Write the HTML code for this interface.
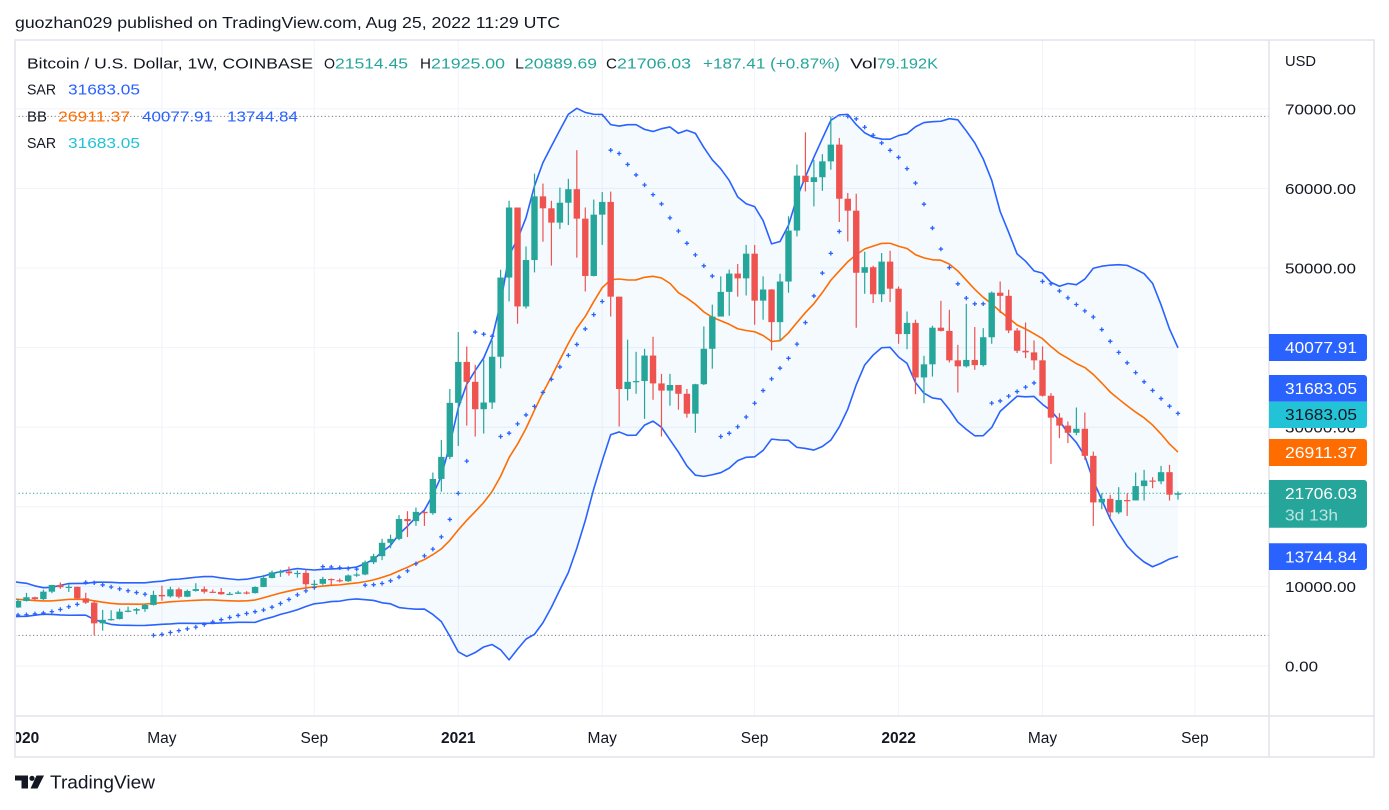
<!DOCTYPE html>
<html><head><meta charset="utf-8">
<style>
html,body{margin:0;padding:0;background:#fff;}
svg{display:block;}
text{font-family:"Liberation Sans",sans-serif;}
</style></head><body>
<svg id="s" width="1389" height="810" viewBox="0 0 1389 810" xmlns="http://www.w3.org/2000/svg">
<defs>
<clipPath id="pc"><rect x="16" y="41" width="1253" height="675"/></clipPath>
<clipPath id="tc"><rect x="16" y="717" width="1253" height="40"/></clipPath>
</defs>
<rect width="1389" height="810" fill="#fff"/>
<!-- grid -->
<g stroke="#f0f3fa" stroke-width="1">
<line x1="15" x2="1269" y1="666" y2="666"/>
<line x1="15" x2="1269" y1="586.4" y2="586.4"/>
<line x1="15" x2="1269" y1="506.8" y2="506.8"/>
<line x1="15" x2="1269" y1="427.2" y2="427.2"/>
<line x1="15" x2="1269" y1="347.6" y2="347.6"/>
<line x1="15" x2="1269" y1="268" y2="268"/>
<line x1="15" x2="1269" y1="188.4" y2="188.4"/>
<line x1="15" x2="1269" y1="108.8" y2="108.8"/>
<line x1="161.9" x2="161.9" y1="40" y2="716"/>
<line x1="314.3" x2="314.3" y1="40" y2="716"/>
<line x1="458.3" x2="458.3" y1="40" y2="716"/>
<line x1="602.2" x2="602.2" y1="40" y2="716"/>
<line x1="754.6" x2="754.6" y1="40" y2="716"/>
<line x1="898.6" x2="898.6" y1="40" y2="716"/>
<line x1="1042.5" x2="1042.5" y1="40" y2="716"/>
<line x1="1194.9" x2="1194.9" y1="40" y2="716"/>
</g>
<g id="plot" clip-path="url(#pc)"></g>
<!-- frame -->
<g stroke="#e0e3eb" stroke-width="1.5" fill="none">
<rect x="15" y="40" width="1359" height="717"/>
<line x1="15" x2="1374" y1="716" y2="716"/>
<line x1="1269" x2="1269" y1="40" y2="757"/>
</g>
<!-- header -->
<text x="15" y="28" font-size="15.5" fill="#131722" textLength="545" lengthAdjust="spacingAndGlyphs">guozhan029 published on TradingView.com, Aug 25, 2022 11:29 UTC</text>
<!-- legend -->
<g font-size="15" lengthAdjust="spacingAndGlyphs">
<text x="27" y="68.5" fill="#131722" textLength="286" lengthAdjust="spacingAndGlyphs">Bitcoin / U.S. Dollar, 1W, COINBASE</text>
<text x="324" y="68.5" fill="#131722" textLength="11" lengthAdjust="spacingAndGlyphs">O</text>
<text x="335" y="68.5" fill="#26a69a" textLength="73" lengthAdjust="spacingAndGlyphs">21514.45</text>
<text x="420" y="68.5" fill="#131722" textLength="11" lengthAdjust="spacingAndGlyphs">H</text>
<text x="431" y="68.5" fill="#26a69a" textLength="74" lengthAdjust="spacingAndGlyphs">21925.00</text>
<text x="515" y="68.5" fill="#131722" textLength="9" lengthAdjust="spacingAndGlyphs">L</text>
<text x="524" y="68.5" fill="#26a69a" textLength="73" lengthAdjust="spacingAndGlyphs">20889.69</text>
<text x="606" y="68.5" fill="#131722" textLength="11" lengthAdjust="spacingAndGlyphs">C</text>
<text x="617" y="68.5" fill="#26a69a" textLength="74" lengthAdjust="spacingAndGlyphs">21706.03</text>
<text x="703" y="68.5" fill="#26a69a" textLength="137" lengthAdjust="spacingAndGlyphs">+187.41 (+0.87%)</text>
<text x="850" y="68.5" fill="#131722" textLength="27" lengthAdjust="spacingAndGlyphs">Vol</text>
<text x="877" y="68.5" fill="#26a69a" textLength="61" lengthAdjust="spacingAndGlyphs">79.192K</text>
<text x="27" y="94.5" fill="#131722" textLength="29" lengthAdjust="spacingAndGlyphs">SAR</text>
<text x="68" y="94.5" fill="#2962ff" textLength="72" lengthAdjust="spacingAndGlyphs">31683.05</text>
<text x="27" y="121.5" fill="#131722" textLength="20" lengthAdjust="spacingAndGlyphs">BB</text>
<text x="58" y="121.5" fill="#ff6d00" textLength="72" lengthAdjust="spacingAndGlyphs">26911.37</text>
<text x="142" y="121.5" fill="#2962ff" textLength="71" lengthAdjust="spacingAndGlyphs">40077.91</text>
<text x="227" y="121.5" fill="#2962ff" textLength="71" lengthAdjust="spacingAndGlyphs">13744.84</text>
<text x="27" y="148" fill="#131722" textLength="29" lengthAdjust="spacingAndGlyphs">SAR</text>
<text x="68" y="148" fill="#22c3d6" textLength="72" lengthAdjust="spacingAndGlyphs">31683.05</text>
</g>
<!-- price axis -->
<g font-size="15" fill="#131722">
<text x="1285" y="66" textLength="31" lengthAdjust="spacingAndGlyphs">USD</text>
<text x="1285" y="114.3" textLength="71" lengthAdjust="spacingAndGlyphs">70000.00</text>
<text x="1285" y="193.9" textLength="71" lengthAdjust="spacingAndGlyphs">60000.00</text>
<text x="1285" y="273.5" textLength="71" lengthAdjust="spacingAndGlyphs">50000.00</text>
<text x="1285" y="353.1" textLength="71" lengthAdjust="spacingAndGlyphs">40000.00</text>
<text x="1285" y="432.7" textLength="71" lengthAdjust="spacingAndGlyphs">30000.00</text>
<text x="1285" y="512.3" textLength="71" lengthAdjust="spacingAndGlyphs">20000.00</text>
<text x="1285" y="591.9" textLength="71" lengthAdjust="spacingAndGlyphs">10000.00</text>
<text x="1285" y="671.5" textLength="33" lengthAdjust="spacingAndGlyphs">0.00</text>
</g>
<!-- price label boxes -->
<g font-size="15.5">
<path d="M1269,334h95a3,3 0 0 1 3,3v21a3,3 0 0 1 -3,3h-95z" fill="#2962ff"/>
<text x="1285" y="353" fill="#fff" textLength="72" lengthAdjust="spacingAndGlyphs">40077.91</text>
<path d="M1269,375h95a3,3 0 0 1 3,3v23.7h-98z" fill="#2962ff"/>
<text x="1285" y="394" fill="#fff" textLength="72" lengthAdjust="spacingAndGlyphs">31683.05</text>
<path d="M1269,401.7h98v23.3a3,3 0 0 1 -3,3h-95z" fill="#22c3d6"/>
<text x="1285" y="420" fill="#131722" textLength="72" lengthAdjust="spacingAndGlyphs">31683.05</text>
<path d="M1269,439h95a3,3 0 0 1 3,3v21a3,3 0 0 1 -3,3h-95z" fill="#ff6d00"/>
<text x="1285" y="458" fill="#fff" textLength="72" lengthAdjust="spacingAndGlyphs">26911.37</text>
<path d="M1269,480h95a3,3 0 0 1 3,3v41.7a3,3 0 0 1 -3,3h-95z" fill="#26a69a"/>
<text x="1285" y="498.8" fill="#fff" textLength="72" lengthAdjust="spacingAndGlyphs">21706.03</text>
<text x="1285" y="520.5" fill="#fff" fill-opacity="0.7" textLength="53" lengthAdjust="spacingAndGlyphs">3d 13h</text>
<path d="M1269,543.3h95a3,3 0 0 1 3,3v20.7a3,3 0 0 1 -3,3h-95z" fill="#2962ff"/>
<text x="1285" y="562.3" fill="#fff" textLength="72" lengthAdjust="spacingAndGlyphs">13744.84</text>
</g>
<!-- time axis -->
<g font-size="15.5" fill="#131722" text-anchor="middle" clip-path="url(#tc)">
<text x="22" y="743" font-weight="bold">2020</text>
<text x="161.9" y="743">May</text>
<text x="314.3" y="743">Sep</text>
<text x="458.3" y="743" font-weight="bold">2021</text>
<text x="602.2" y="743">May</text>
<text x="754.6" y="743">Sep</text>
<text x="898.6" y="743" font-weight="bold">2022</text>
<text x="1042.5" y="743">May</text>
<text x="1194.9" y="743">Sep</text>
</g>
<!-- logo -->
<g fill="#131722">
<rect x="15" y="775.5" width="13" height="5"/>
<rect x="21.5" y="775.5" width="6.5" height="13"/>
<circle cx="32" cy="778.3" r="2.6"/>
<polygon points="36.5,775.5 44,775.5 37.5,788.5 30.5,788.5"/>
<text x="50" y="788.5" font-size="18.5" textLength="105" lengthAdjust="spacingAndGlyphs">TradingView</text>
</g>
</svg>
<script>
(function(){
var warm=[
[13200,9600,11300],[13100,9900,10200],[11100,9100,10400],[10700,9100,9500],[11100,9400,10800],[12300,10700,11400],[11500,9500,10200],[10900,9800,10140],[10600,9300,9600],[10900,9600,10400],[10500,9900,10300],[10400,9600,10000],[10000,7700,8060],[8500,7800,7990],[8800,7900,8300],[8400,7800,7960],[10300,7300,9250],[9600,8900,9200],[9500,8700,8800],[9100,8300,8500],[8500,6800,7050],[7900,6500,7400],[7900,7100,7500],[7500,6900,7100],[7600,6400,7150],[7500,7050,7250]];
var main=[
[7500,6850,7350],[8470,7300,8170],[9180,8100,8640],[8700,8250,8400],[9580,8300,9340],[10200,9150,10180],[10500,9700,9900],[10300,9300,9950],[9990,8400,8500],[9200,7800,7960],
[8170,3850,5360],[7040,4440,5800],[7000,5700,5900],[7200,5850,6830],[7450,6750,6950],[7300,6500,7150],[7800,6800,7670],[9450,7600,8930],[10080,8200,8750],[9950,8600,9640],
[9850,8500,8700],[9600,8650,9430],[10400,9350,9660],[9990,9100,9330],[9600,9200,9300],[9800,8950,9010],[9300,8900,9070],[9450,9050,9240],[9400,9000,9160],[10000,9100,9930],
[11450,9900,11060],[12000,11000,11770],[12100,11200,11870],[12480,11350,11650],[12000,11100,11700],[12100,9900,10270],[10800,9900,10330],[11200,10200,10930],[11000,10150,10780],[11000,10500,10650],
[11500,10550,11380],[11750,11200,11500],[13250,11400,13030],[14100,12800,13800],[15980,13300,15480],[16500,14800,15970],[18950,15800,18470],[19450,16200,18200],[19900,17600,19360],[19450,17600,19200],
[24300,19000,23500],[28400,21900,26270],[34800,26000,33060],[41950,27650,38200],[40140,30200,35700],[37840,28830,32260],[38500,29200,33100],[40900,32300,38850],[49780,37400,48800],[58450,45800,57600],
[57600,43000,45170],[52700,44900,51000],[61850,49450,59000],[60600,53300,57500],[58450,50300,55700],[60100,54900,58200],[61200,55400,59900],[64800,51300,56200],[57600,47050,49000],[58600,48950,56700],
[59550,52900,58300],[59600,43900,46400],[46400,30090,34800],[41000,33350,35700],[39470,34200,35800],[39850,31050,39000],[41360,33440,35500],[36700,28830,34600],[36700,32700,35300],[35300,32200,34200],
[34800,31200,31700],[35450,29300,35400],[42650,35300,39850],[45400,37350,43900],[48950,43900,47000],[49800,44000,49300],[50500,46400,48700],[52900,46550,51800],[52900,42870,45900],[48950,43500,47300],
[47350,39640,43200],[49280,40900,48300],[56500,46900,54700],[63000,53970,61600],[67040,59620,60800],[63600,57740,61400],[64300,59700,63400],[69050,62350,65500],[66340,55780,58700],[59420,53330,57200],
[59330,42490,49400],[52040,46760,50100],[50280,45600,46700],[51880,45720,50800],[52170,45720,47400],[47680,40480,41700],[44540,39800,43100],[43500,34150,36250],[38970,33020,37900],[42740,36360,42500],
[45880,42030,42100],[44750,38130,38400],[40350,34360,37650],[45500,37500,38450],[42580,37210,37800],[42450,37630,41300],[47050,40480,46900],[48310,44340,46500],[47270,41820,42150],[42450,39310,39600],
[43150,38680,39400],[40900,37210,38400],[40140,33850,33950],[34280,25390,31200],[31770,28620,30200],[30710,28000,29300],[32470,29000,29800],[31850,25900,26400],[26940,17600,20550],[21710,19700,21000],
[21500,18690,19300],[22460,19100,20850],[21710,18860,20800],[24300,20870,22600],[24640,20780,23300],[23720,22340,23200],[25140,22840,24350],[25270,20780,21518.62],[21925,20889.69,21706.03]];
var all=warm.concat(main),off=warm.length,N=all.length;
var O=[],H=[],L=[],C=[];
for(var k=0;k<N;k++){H[k]=all[k][0];L[k]=all[k][1];C[k]=all[k][2];O[k]=k?C[k-1]:10800;}
O[N-1]=21514.45;
function X(k){return 18+(k-off-1)*8.467;}
function Y(p){return 666-p*0.00796;}
function f(v){return v.toFixed(2);}
var ns="http://www.w3.org/2000/svg",g=document.getElementById("plot");
function add(tag,attrs){var e=document.createElementNS(ns,tag);for(var a in attrs)e.setAttribute(a,attrs[a]);g.appendChild(e);return e;}
// Bollinger
var up=[],lo=[],md=[],ks=[];
for(var k=19;k<N;k++){
 if(k<off-2)continue;
 var s=0;for(var j=k-19;j<=k;j++)s+=C[j];var m=s/20;
 var v=0;for(var j=k-19;j<=k;j++)v+=(C[j]-m)*(C[j]-m);var sd=Math.sqrt(v/20);
 ks.push(k);md.push(m);up.push(m+2*sd);lo.push(m-2*sd);
}
var pu="",pl="",pm="",fill="";
for(var i=0;i<ks.length;i++){
 var x=X(ks[i]);
 pu+=(i?"L":"M")+f(x)+","+f(Y(up[i]));
 pl+=(i?"L":"M")+f(x)+","+f(Y(lo[i]));
 pm+=(i?"L":"M")+f(x)+","+f(Y(md[i]));
}
fill=pu;
for(var i=ks.length-1;i>=0;i--)fill+="L"+f(X(ks[i]))+","+f(Y(lo[i]));
fill+="Z";
add("path",{d:fill,fill:"#2196f3","fill-opacity":"0.05",stroke:"none"});
add("path",{d:pu,fill:"none",stroke:"#2962ff","stroke-width":"1.6","stroke-linejoin":"round"});
add("path",{d:pl,fill:"none",stroke:"#2962ff","stroke-width":"1.6","stroke-linejoin":"round"});
add("path",{d:pm,fill:"none",stroke:"#ff6d00","stroke-width":"1.6","stroke-linejoin":"round"});
// Parabolic SAR
var st=0.02,inc=0.02,mx=0.2;
var res,mm,acc,below,sar=[];
for(var k=1;k<N;k++){
 var first=false;
 if(k==1){
  if(C[1]>C[0]){below=true;mm=H[1];res=L[0];}else{below=false;mm=L[1];res=H[0];}
  first=true;acc=st;
 }
 res=res+acc*(mm-res);
 if(below){
  if(res>L[k]){first=true;below=false;res=Math.max(H[k],mm);mm=L[k];acc=st;}
 }else{
  if(res<H[k]){first=true;below=true;res=Math.min(L[k],mm);mm=H[k];acc=st;}
 }
 if(!first){
  if(below){if(H[k]>mm){mm=H[k];acc=Math.min(acc+inc,mx);}}
  else{if(L[k]<mm){mm=L[k];acc=Math.min(acc+inc,mx);}}
 }
 if(below){res=Math.min(res,L[k-1]);if(k>1)res=Math.min(res,L[k-2]);}
 else{res=Math.max(res,H[k-1]);if(k>1)res=Math.max(res,H[k-2]);}
 sar[k]=res;
}
var ps="";
for(var k=off-1;k<N;k++){
 var x=X(k),y=Y(sar[k]);
 ps+="M"+f(x-2.2)+","+f(y)+"h4.4M"+f(x)+","+f(y-2.2)+"v4.4";
}
add("path",{d:ps,fill:"none",stroke:"#2962ff","stroke-width":"1.3"});
// dotted lines
add("line",{x1:15,x2:1269,y1:f(Y(69050)),y2:f(Y(69050)),stroke:"#787b86","stroke-width":"1","stroke-dasharray":"1.2,2.4"});
add("line",{x1:15,x2:1269,y1:f(Y(3850)),y2:f(Y(3850)),stroke:"#787b86","stroke-width":"1","stroke-dasharray":"1.2,2.4"});
add("line",{x1:15,x2:1269,y1:f(Y(21706.03)),y2:f(Y(21706.03)),stroke:"#26a69a","stroke-width":"1","stroke-dasharray":"1.2,2.4"});
// candles
for(var k=off-1;k<N;k++){
 var x=X(k),upc=C[k]>=O[k],col=upc?"#26a69a":"#ef5350";
 add("line",{x1:f(x),x2:f(x),y1:f(Y(H[k])),y2:f(Y(L[k])),stroke:col,"stroke-width":"1.2"});
 var t=Y(Math.max(O[k],C[k])),b=Y(Math.min(O[k],C[k]));
 var h=Math.max(b-t,1.2);
 add("rect",{x:f(x-3.2),y:f(t),width:"6.4",height:f(h),fill:col});
}
})();
</script>
</body></html>
